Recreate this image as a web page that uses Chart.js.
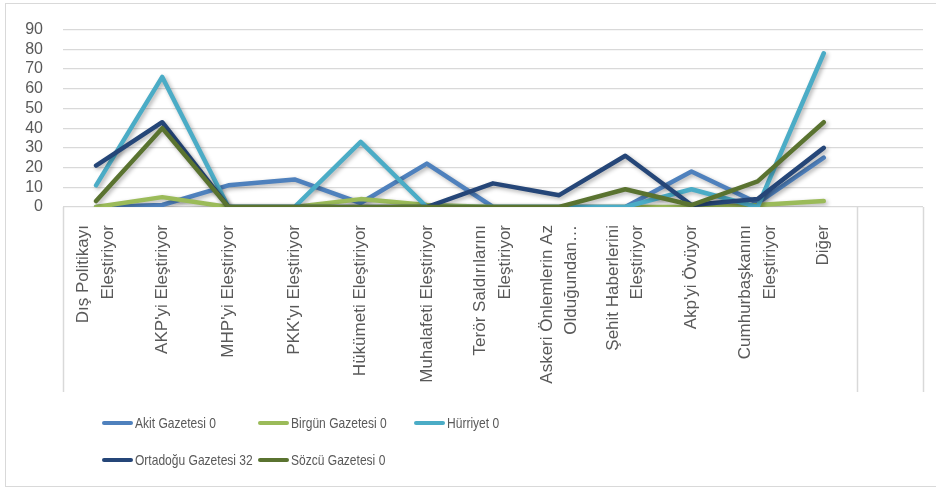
<!DOCTYPE html>
<html>
<head>
<meta charset="utf-8">
<script src="https://cdn.jsdelivr.net/npm/chart.js@4/dist/chart.umd.min.js"></script>
<style>
  html, body { margin: 0; padding: 0; background: #fff; overflow: hidden; }
  #wrap { position: relative; width: 936px; height: 489px; overflow: hidden; }
  #frame { position: absolute; left: 5px; top: 3px; width: 1000px; height: 484px; border: 1px solid #d9d9d9; box-sizing: border-box; }
  canvas { position: absolute; left: 0; top: 0; }
  #legend { position: absolute; left: 102px; top: 412px; display: grid; grid-template-columns: 156px 156px 156px; row-gap: 15px;
            font-family: "Liberation Sans", Arial, sans-serif; font-size: 14.5px; color: #595959; }
  .item { display: flex; align-items: center; height: 22px; white-space: nowrap; }
  .swatch { flex: 0 0 31px; width: 31px; height: 4px; border-radius: 2px; margin-right: 2px; }
  .txt { display: inline-block; transform: scaleX(0.83); transform-origin: left center; }
</style>
</head>
<body>
<div id="wrap">
  <div id="frame"></div>
  <canvas id="myChart" width="936" height="489"></canvas>
  <div id="legend"></div>
</div>
<script>
var categories = [
    ["Dış Politikayı", "Eleştiriyor"],
    "AKP'yi Eleştiriyor",
    "MHP'yi Eleştiriyor",
    "PKK'yı Eleştiriyor",
    "Hükümeti Eleştiriyor",
    "Muhalafeti Eleştiriyor",
    ["Terör Saldırılarını", "Eleştiriyor"],
    ["Askeri Önlemlerin Az", "Olduğundan…"],
    ["Şehit Haberlerini", "Eleştiriyor"],
    "Akp'yi Övüyor",
    ["Cumhurbaşkanını", "Eleştiriyor"],
    "Diğer",
    ""
];
var yTicks = [0, 10, 20, 30, 40, 50, 60, 70, 80, 90];

var seriesNames = ["Akit Gazetesi 0", "Birgün Gazetesi 0", "Hürriyet 0", "Ortadoğu Gazetesi 32", "Sözcü Gazetesi 0"];
var akit     = [0, 1, 11, 14, 2, 22, 0, 0, 0, 18, 2, 25];
var birgun   = [0, 5, 0, 0, 4, 1, 0, 0, 0, 0, 1, 3];
var hurriyet = [11, 66, 0, 0, 33, 0, 0, 0, 0, 9, 0, 78];
var ortadogu = [21, 43, 0, 0, 0, 0, 12, 6, 26, 1, 4, 30];
var sozcu    = [3, 40, 0, 0, 0, 0, 0, 0, 9, 1, 13, 43];

var colors = ['#4F81BD', '#9BBB59', '#4BACC6', '#254678', '#5A7330'];
var allData = [akit, birgun, hurriyet, ortadogu, sozcu];

var textColor = '#595959';
var gridColor = '#d9d9d9';
var font = "'Liberation Sans', Arial, sans-serif";
var xFontSize = 17;
var xLineHeight = 1.45;

// excel-like soft shadow under the lines
var shadowPlugin = {
    id: 'shadow',
    beforeDatasetsDraw: function(chart) {
        var ctx = chart.ctx;
        ctx.save();
        ctx.shadowColor = 'rgba(0,0,0,0.3)';
        ctx.shadowBlur = 4;
        ctx.shadowOffsetX = 2;
        ctx.shadowOffsetY = 2;
    },
    afterDatasetsDraw: function(chart) {
        chart.ctx.restore();
    }
};

// the vertical lines boxing the category labels
var boxPlugin = {
    id: 'box',
    afterDraw: function(chart) {
        var x = chart.scales.x;
        var ctx = chart.ctx;
        var step = (x.right - x.left) / x.ticks.length;
        var xs = [x.left, x.left + step * (x.ticks.length - 1), x.right];
        ctx.save();
        ctx.strokeStyle = gridColor;
        ctx.lineWidth = 1.5;
        xs.forEach(function(px) {
            ctx.beginPath();
            ctx.moveTo(Math.round(px) + 0.5, chart.chartArea.bottom);
            ctx.lineTo(Math.round(px) + 0.5, x.bottom);
            ctx.stroke();
        });
        ctx.restore();
    }
};

var datasets = seriesNames.map(function(name, i) {
    return {
        label: name,
        data: allData[i],
        borderColor: colors[i],
        backgroundColor: colors[i],
        borderWidth: 4.5,
        pointRadius: 0,
        tension: 0,
        borderCapStyle: 'round',
        borderJoinStyle: 'round',
        order: seriesNames.length - i
    };
});

// two-line labels get centred on the tick: single lines use the backdrop mode
// (transparent) so they are not shifted by the global labelOffset
function isSingle(ctx) {
    return !Array.isArray(categories[ctx.index]);
}

var chart = new Chart(document.getElementById('myChart'), {
    type: 'line',
    data: { labels: categories, datasets: datasets },
    options: {
        responsive: false,
        animation: false,
        layout: { padding: { top: 27, right: 13, bottom: 97, left: 0 } },
        plugins: {
            legend: { display: false },
            tooltip: { enabled: false }
        },
        scales: {
            x: {
                offset: true,
                grid: { display: false },
                border: { display: false },
                ticks: {
                    color: textColor,
                    font: { family: font, size: xFontSize, lineHeight: xLineHeight },
                    minRotation: 90,
                    maxRotation: 90,
                    autoSkip: false,
                    padding: 10,
                    labelOffset: -xFontSize * xLineHeight / 2,
                    showLabelBackdrop: isSingle,
                    backdropColor: 'rgba(0,0,0,0)',
                    backdropPadding: 0
                },
                afterFit: function(scale) { scale.height = 185; }
            },
            y: {
                min: 0,
                max: 90,
                grid: { color: gridColor, lineWidth: 1.3, drawTicks: false },
                border: { display: false },
                afterBuildTicks: function(scale) {
                    scale.ticks = yTicks.map(function(v) { return { value: v }; });
                },
                ticks: {
                    color: textColor,
                    font: { family: font, size: 16 },
                    padding: 20,
                    autoSkip: false
                },
                afterFit: function(scale) { scale.width = 63; }
            }
        }
    },
    plugins: [shadowPlugin, boxPlugin]
});

var legend = document.getElementById('legend');
chart.data.datasets.forEach(function(ds) {
    var item = document.createElement('div');
    item.className = 'item';
    var sw = document.createElement('span');
    sw.className = 'swatch';
    sw.style.background = ds.borderColor;
    var txt = document.createElement('span');
    txt.className = 'txt';
    txt.textContent = ds.label;
    item.appendChild(sw);
    item.appendChild(txt);
    legend.appendChild(item);
});
</script>
</body>
</html>
